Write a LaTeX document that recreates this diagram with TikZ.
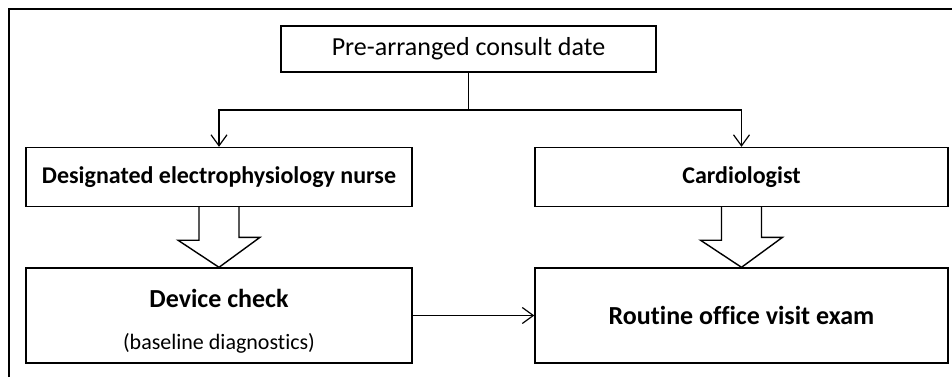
\documentclass[tikz,border=0pt]{standalone}
\usepackage{fontspec}
\setmainfont{Carlito}[Ligatures=NoCommon]
\usepackage{tikz}
\usetikzlibrary{arrows.meta,positioning}
\tikzset{
  cf diagram/.style={font=\fontsize{13pt}{15pt}\selectfont, text=black,
    line join=miter},
  cf box/.style={draw, line width=0.7pt, align=center, inner sep=0pt},
  cf head/.style={cf box, font=\fontsize{12pt}{14pt}\selectfont\bfseries},
  cf arrow/.style={-{Straight Barb[length=5.5pt,width=8pt]}, line width=0.6pt},
  cf line/.style={line width=0.6pt},
  cf block/.style={draw, fill=white, line width=0.7pt},
  cf frame/.style={line width=1.1pt}
}
\begin{document}
\begin{tikzpicture}[cf diagram,x=0.5pt,y=-0.5pt]
\useasboundingbox (0,0) rectangle (952,377);
\draw[cf frame] (9,377) -- (9,9) -- (952,9);
\node[cf box,minimum width=187.5pt,minimum height=23pt] (consult) at (468.5,49) {Pre-arranged consult date};
\node[cf head,minimum width=193pt,minimum height=29.5pt] (nurse) at (219,177) {Designated electrophysiology nurse};
\node[cf head,minimum width=206.5pt,minimum height=29.5pt] (cardio) at (741.5,177) {Cardiologist};
\node[cf box,minimum width=193pt,minimum height=47.5pt] (check) at (219,315.5)
  {\rule{0pt}{14.5pt}\textbf{Device check}\\[6pt]{\fontsize{11pt}{13pt}\selectfont(baseline diagnostics)}};
\node[cf head,font=\fontsize{13pt}{15pt}\selectfont\bfseries,minimum width=206.5pt,minimum height=47.5pt] (visit) at (741.5,315.5) {Routine office visit exam};
\coordinate (split) at (468.5,110);
\draw[cf line] (consult.south) -- (split);
\draw[cf arrow] (split) -| (nurse.north);
\draw[cf arrow] (split) -| (cardio.north);
\foreach \a/\b in {nurse/check,cardio/visit}{
  \draw[cf block] ([xshift=-10pt]\a.south) -- ++(0,33) -- ++(-21,0) -- (\b.north)
    -- ++(41,-30) -- ++(-21,0) -- ([xshift=10pt]\a.south);
}
\draw[cf arrow] (check.east) -- (visit.west);
\end{tikzpicture}
\end{document}
